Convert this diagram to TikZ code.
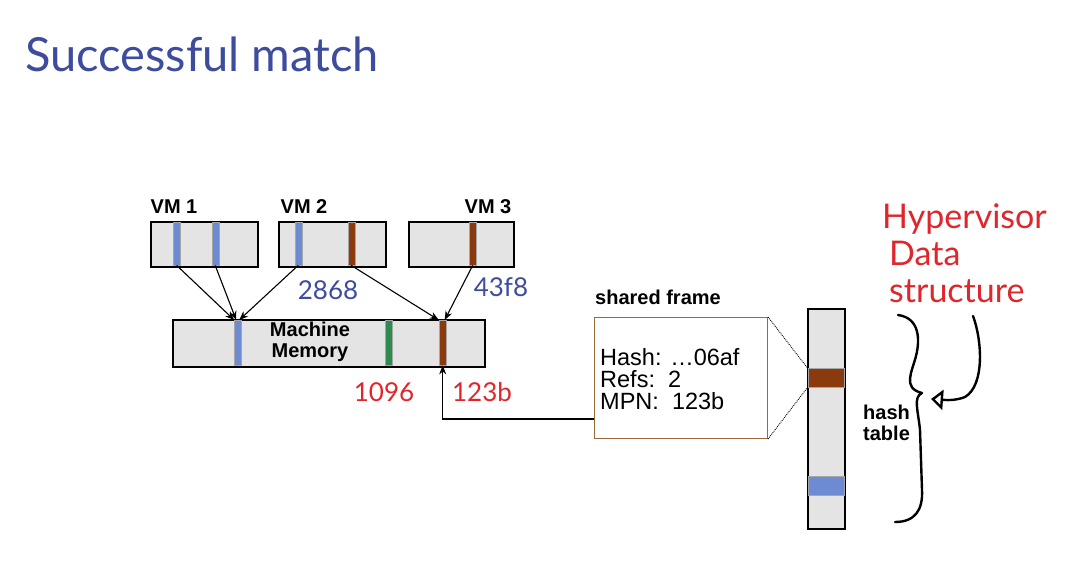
\documentclass[tikz,border=0pt]{standalone}
\usepackage{fontspec}
\setmainfont{Liberation Sans}
\newfontfamily\handfont{Lato}
\usetikzlibrary{arrows.meta}
\definecolor{boxgray}{HTML}{E4E4E4}
\definecolor{stripeblue}{HTML}{6C8BD3}
\definecolor{stripebrown}{HTML}{8A3A0C}
\definecolor{stripegreen}{HTML}{2E8B50}
\definecolor{inkblue}{HTML}{3D4C9C}
\definecolor{inkred}{HTML}{E0262A}
\definecolor{framebrown}{HTML}{9C6A3A}
\begin{document}
\begin{tikzpicture}[x=1pt,y=-1pt,
  membox/.style={draw=black, line width=1.8pt, fill=boxgray, inner sep=0pt, anchor=north west},
  stripe/.style={draw=gray!70, line width=0.4pt, inner sep=0pt, minimum width=7pt, anchor=north west},
  boldlabel/.style={font=\bfseries\fontsize{20}{21}\selectfont, inner sep=0pt},
  frametext/.style={font=\fontsize{23.5}{22}\selectfont, inner sep=0pt, anchor=base west},
  ptr/.style={-{Stealth[length=9pt,width=7pt]}, line width=1.1pt},
  handblue/.style={font=\handfont\fontsize{26}{28}\selectfont, text=inkblue, inner sep=0pt},
  handred/.style={font=\handfont\fontsize{26}{28}\selectfont, text=inkred, inner sep=0pt},
  bigred/.style={font=\handfont\fontsize{34}{37}\selectfont, text=inkred, inner sep=0pt, align=left, anchor=base west},
  ink/.style={line width=2.4pt, line cap=round, line join=round}
]
\useasboundingbox (0,0) rectangle (1091,575);

% title
\node[font=\handfont\fontsize{47}{50}\selectfont, text=inkblue, inner sep=0pt, anchor=base west] (title) at (25,72) {Successful match};

% VM boxes
\node[membox, minimum width=107pt, minimum height=45pt] (vm1) at (150,221) {};
\node[membox, minimum width=107pt, minimum height=45pt] (vm2) at (278,221) {};
\node[membox, minimum width=105pt, minimum height=45pt] (vm3) at (408,221) {};
\node[stripe, fill=stripeblue, minimum height=43pt] (v1a) at (173,222) {};
\node[stripe, fill=stripeblue, minimum height=43pt] (v1b) at (211.5,222) {};
\node[stripe, fill=stripeblue, minimum height=43pt] (v2a) at (294.5,222) {};
\node[stripe, fill=stripebrown, minimum height=43pt] (v2b) at (347.5,222) {};
\node[stripe, fill=stripebrown, minimum height=43pt] (v3a) at (469,222) {};
\node[boldlabel] (l1) at (174,207) {VM 1};
\node[boldlabel] (l2) at (304,207) {VM 2};
\node[boldlabel] (l3) at (488,207) {VM 3};

% machine memory
\node[membox, minimum width=312pt, minimum height=47pt] (mem) at (172,319) {};
\node[stripe, fill=stripeblue, minimum height=45pt] (mblue) at (233.5,320) {};
\node[stripe, fill=stripegreen, minimum height=45pt] (mgreen) at (385,320) {};
\node[stripe, fill=stripebrown, minimum height=45pt] (mbrown) at (439,320) {};
\node[boldlabel, align=center] (memtext) at (310,342) {Machine\\Memory};

% pointers
\draw[ptr] (v1a.south) -- ([xshift=-3pt]mblue.north);
\draw[ptr] (v1b.south) -- ([xshift=-1pt]mblue.north);
\draw[ptr] (v2a.south) -- ([xshift=2pt]mblue.north);
\draw[ptr] (v2b.south) -- ([xshift=-4pt]mbrown.north);
\draw[ptr] (v3a.south) -- ([xshift=2pt]mbrown.north);

% handwritten numbers
\node[handblue] (n2868) at (328,290) {2868};
\node[handblue] (n43f8) at (501,287) {43f8};
\node[handred] (n1096) at (384,392) {1096};
\node[handred] (n123b) at (482,392) {123b};

% shared frame
\node[draw=framebrown, line width=1pt, fill=white, inner sep=0pt, anchor=north west,
      minimum width=173pt, minimum height=121pt] (sf) at (594,317) {};
\node[boldlabel] (sflabel) at (658,297) {shared frame};
\node[frametext] (hashl) at (600,365) {Hash: …06af};
\node[frametext] (refsl) at (600,387) {Refs:\ \ 2};
\node[frametext] (mpnl) at (600,409) {MPN:\ \ 123b};
\coordinate (sfjoin) at (594,419);
\draw[ptr] (sfjoin) -| (mbrown.south);

% hash table
\node[draw=black, line width=1.6pt, fill=boxgray, inner sep=0pt, anchor=north west,
      minimum width=37pt, minimum height=220pt] (ht) at (807,308) {};
\node[stripe, fill=stripebrown, minimum width=36pt, minimum height=19pt] (hbrown) at (807.5,368) {};
\node[stripe, fill=stripeblue, minimum width=36pt, minimum height=19pt] (hblue) at (807.5,476) {};
\draw[densely dotted, line width=0.9pt] (sf.north east) -- (hbrown.north west);
\draw[densely dotted, line width=0.9pt] (sf.south east) -- (hbrown.south west);
\node[boldlabel, align=left, anchor=north west] (htlabel) at (863,405) {hash\\table};

% brace
\draw[ink] (898,315) .. controls (920,318) and (920,340) .. (916,356)
  .. controls (912,372) and (902,388) .. (922,393)
  .. controls (913,397) and (918,410) .. (920,430)
  -- (922,490) .. controls (923,510) and (915,522) .. (895,522);
\coordinate (bracetip) at (931,399);

% hypervisor data structure
\node[bigred] (hv) at (882,302) {Hypervisor\\\hspace*{7pt}Data\\\hspace*{7pt}structure};
\coordinate (hvstart) at (973,316);
\draw[ink, -{Triangle[open,length=12pt,width=20pt]}] (hvstart) .. controls (982,340) and (985,385) .. (965,397)
  .. controls (955,401) and (945,400) .. (bracetip);
\end{tikzpicture}
\end{document}
